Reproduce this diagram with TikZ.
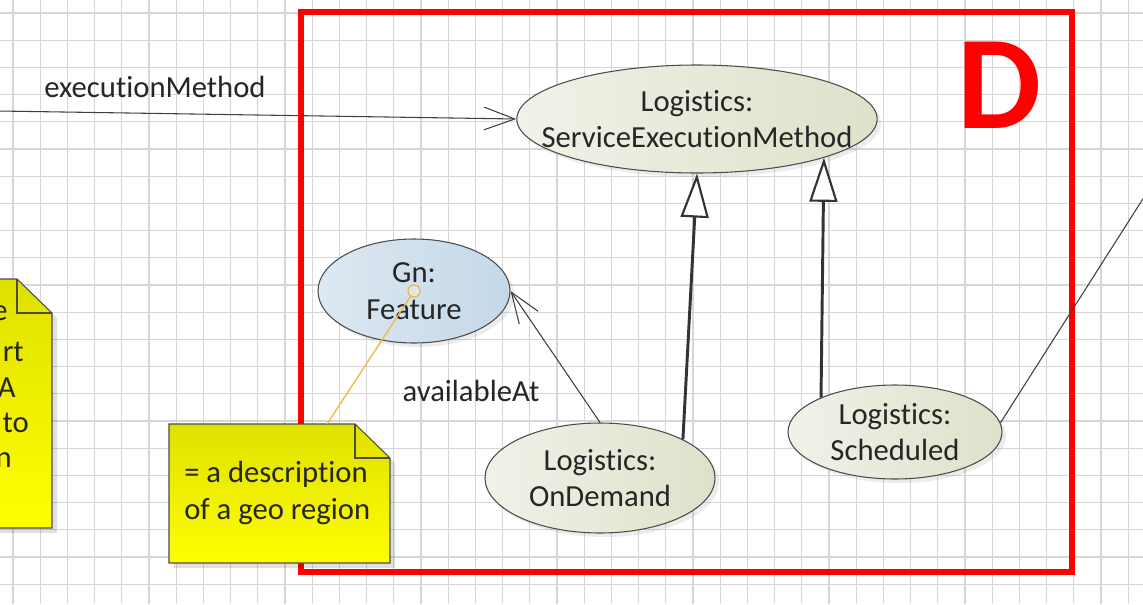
\documentclass[tikz,border=0pt]{standalone}
\usepackage{fontspec}
\setmainfont{Carlito}[Ligatures=NoCommon]
\usetikzlibrary{shapes.geometric,arrows.meta,shadows}
\definecolor{gridgray}{HTML}{D6D6D6}
\definecolor{txtgray}{HTML}{262626}
\definecolor{clsleft}{HTML}{F0F2E8}
\definecolor{clsright}{HTML}{DCE2CA}
\definecolor{geoleft}{HTML}{DDE8F1}
\definecolor{georight}{HTML}{C5D8E8}
\definecolor{notetop}{HTML}{E0E000}
\definecolor{notebot}{HTML}{FFFF00}
\definecolor{anchorline}{HTML}{F2B840}
\tikzstyle{gridline}=[draw=gridgray, line width=1pt]
\tikzstyle{cls}=[ellipse, draw=black!70, line width=0.8pt, inner sep=0pt, left color=clsleft, right color=clsright, align=center, text=txtgray, font=\fontsize{23}{27.5}\selectfont, drop shadow={opacity=0.15, shadow xshift=3pt, shadow yshift=-3pt}]
\tikzstyle{geo}=[cls, left color=geoleft, right color=georight]
\tikzstyle{lbl}=[text=txtgray, font=\fontsize{23}{27.5}\selectfont, inner sep=0pt]
\tikzstyle{notebody}=[draw=black!70, line width=0.8pt, top color=notetop, bottom color=notebot]
\tikzstyle{noteshadow}=[fill=black, opacity=0.12]
\tikzstyle{assoc}=[draw=black!75, line width=0.8pt, -{Straight Barb[length=23pt, width=17pt]}]
\tikzstyle{gen}=[draw=black!80, line width=2.2pt, -{Triangle[length=33pt, width=21pt, line width=1.6pt, fill=white]}]
\begin{document}
\begin{tikzpicture}[x=0.75pt, y=-0.75pt]
            \path[use as bounding box, clip] (0,0) rectangle (1143,604);
            \fill[white] (0,0) rectangle (1143,604);
            % grid
            \foreach \k in {0,...,41} \draw[gridline] (13+27.2*\k,0) -- (13+27.2*\k,604);
            \foreach \k in {0,...,21} \draw[gridline] (0,13+27.2*\k) -- (1143,13+27.2*\k);
            % frame D
            \draw[red, line width=4.5pt] (301,12) rectangle (1072,572);
            \node[text=red, inner sep=0pt, font=\fontsize{100}{100}\selectfont\bfseries] (D) at (1000,85) {D};
            % classes
            \node[cls, inner xsep=-21pt, inner ysep=-2pt, minimum height=81pt] (SEM) at (697,119) {Logistics:\\ServiceExecutionMethod};
            \node[geo, minimum width=144pt, minimum height=78pt] (Feat) at (414,291) {Gn:\\Feature};
            \node[cls, minimum width=172.5pt, minimum height=82.5pt] (OnD) at (600,478) {Logistics:\\OnDemand};
            \node[cls, minimum width=160.5pt, minimum height=70.5pt] (Sch) at (895,432) {Logistics:\\Scheduled};
            \coordinate (execsrc) at (-2,111);
            \coordinate (offpage) at (1160,172);
            % connectors
            \draw[assoc] (execsrc) -- (SEM.west);
            \draw[assoc] (OnD.north) -- (Feat.east);
            \draw[gen] (OnD.25) -- (SEM.south);
            \draw[gen] (Sch.155) -- (SEM.-17);
            \draw[black!75, line width=0.8pt] (Sch.5) -- (offpage);
            \node[lbl] (execlbl) at (155,87) {executionMethod};
            \node[lbl] (availlbl) at (471,391) {availableAt};
            % notes
            \fill[noteshadow] (-100,284) -- (22,284) -- (57,318) -- (57,533) -- (-100,533) -- cycle;
            \path[notebody] (-100,279) -- (17,279) -- (52,313) -- (52,528) -- (-100,528) -- cycle;
            \draw[black!70, line width=0.8pt] (17,279) -- (17,313) -- (52,313);
            \node[lbl, anchor=east] (frag1) at (8,313) {e};
            \node[lbl, anchor=east] (frag2) at (24,352) {rt};
            \node[lbl, anchor=east] (frag3) at (16,388) {A};
            \node[lbl, anchor=east] (frag4) at (29,423) {to};
            \node[lbl, anchor=east] (frag5) at (12,460) {n};
            \fill[noteshadow] (174,429) -- (360,429) -- (395,463) -- (395,568) -- (174,568) -- cycle;
            \path[notebody] (169,424) -- (355,424) -- (390,458) -- (390,563) -- (169,563) -- cycle;
            \draw[black!70, line width=0.8pt] (355,424) -- (355,458) -- (390,458);
            \node[lbl, anchor=west, align=left] (descr) at (184,493) {= a description\\of a geo region};
            \coordinate (descrtop) at (327,424);
            \draw[anchorline, line width=1pt] (descrtop) -- (Feat.center);
            \draw[anchorline, line width=1pt, fill=geoleft] (Feat.center) circle (6);
        \end{tikzpicture}
\end{document}
